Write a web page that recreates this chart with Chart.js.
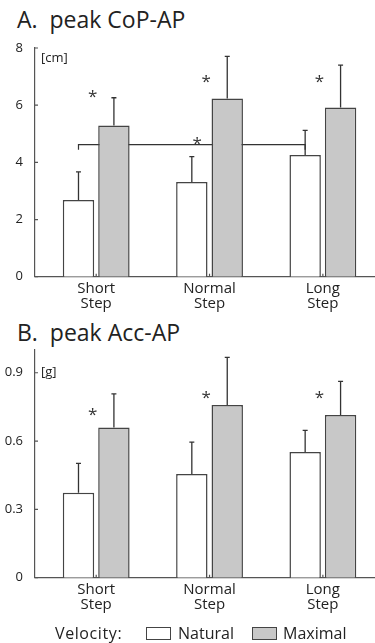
<!DOCTYPE html>
<html>
<head>
<meta charset="utf-8">
<script src="https://cdn.jsdelivr.net/npm/chart.js@4.4.1/dist/chart.umd.min.js"></script>
<style>
  body { margin: 0; background: #fff; width: 375px; height: 643px; overflow: hidden; position: relative; font-family: "Open Sans", sans-serif; color: #222; }
  .title { position: absolute; left: 17px; font-size: 23px; line-height: 24px; white-space: pre; }
  #wrapA { position: absolute; left: 0; top: 0; width: 375px; height: 330px; }
  #wrapB { position: absolute; left: 0; top: 310px; width: 375px; height: 320px; }
  .leg { position: absolute; font-size: 16px; line-height: 16px; top: 625px; white-space: pre; }
  .sw { position: absolute; top: 627px; width: 23px; height: 11px; border: 1px solid #444; }
</style>
</head>
<body>
<div class="title" style="top:7px">A.  peak CoP-AP</div>
<div class="title" style="top:320px">B.  peak Acc-AP</div>
<div id="wrapA"><canvas id="chartA"></canvas></div>
<div id="wrapB"><canvas id="chartB"></canvas></div>
<div class="leg" style="left:55px;letter-spacing:0.6px">Velocity:</div>
<div class="sw" style="left:146px;background:#fff"></div>
<div class="leg" style="left:178px">Natural</div>
<div class="sw" style="left:252px;background:#c8c8c8"></div>
<div class="leg" style="left:283px">Maximal</div>
<script>
// categorías y valores
const categories = [['Short', 'Step'], ['Normal', 'Step'], ['Long', 'Step']];

const copNatural = [2.68, 3.31, 4.26];
const copMaximal = [5.29, 6.23, 5.92];
const copNaturalSd = [0.99, 0.89, 0.86];
const copMaximalSd = [0.97, 1.48, 1.48];
const copStars = [6.48, 7.02, 7.02];
const copTicks = [0, 2, 4, 6, 8];

const accNatural = [0.373, 0.455, 0.552];
const accMaximal = [0.66, 0.758, 0.714];
const accNaturalSd = [0.129, 0.14, 0.095];
const accMaximalSd = [0.147, 0.21, 0.148];
const accStars = [0.74, 0.814, 0.814];
const accTicks = [0, 0.3, 0.6, 0.9];

// comparación Short vs Long (natural)
const copBracket = { from: 0, to: 2, y: 4.62, star: 4.84, starAt: 0.89 };

const FONT = '"Open Sans", sans-serif';
const INK = '#333';

function pts(arr) {
  return arr.map((v, i) => ({ x: i, y: v }));
}

function drawStar(ctx, x, y) {
  ctx.save();
  ctx.fillStyle = INK;
  ctx.font = '17px ' + FONT;
  ctx.textAlign = 'center';
  ctx.textBaseline = 'alphabetic';
  ctx.fillText('*', x, y + 11);
  ctx.restore();
}

const extrasPlugin = {
  id: 'extras',
  beforeDatasetsDraw(chart, args, opts) {
    const ctx = chart.ctx;
    const ys = chart.scales.y;
    const b = opts.bracket;
    if (!b) return;
    const meta = chart.getDatasetMeta(0);
    const x1 = meta.data[b.from].x, x2 = meta.data[b.to].x;
    const y = ys.getPixelForValue(b.y);
    ctx.save();
    ctx.strokeStyle = INK;
    ctx.lineWidth = 1.2;
    ctx.beginPath();
    ctx.moveTo(x1, y + 5);
    ctx.lineTo(x1, y);
    ctx.lineTo(x2, y);
    ctx.lineTo(x2, y + 5);
    ctx.stroke();
    ctx.restore();
  },
  afterDatasetsDraw(chart, args, opts) {
    const ctx = chart.ctx;
    const xs = chart.scales.x, ys = chart.scales.y;
    // barras de error (solo hacia arriba)
    opts.sd.forEach((sdArr, di) => {
      const meta = chart.getDatasetMeta(di);
      meta.data.forEach((bar, j) => {
        const mean = chart.data.datasets[di].data[j].y;
        const top = ys.getPixelForValue(mean + sdArr[j]);
        ctx.save();
        ctx.strokeStyle = INK;
        ctx.lineWidth = 1.3;
        ctx.beginPath();
        ctx.moveTo(bar.x, bar.y);
        ctx.lineTo(bar.x, top);
        ctx.moveTo(bar.x - 2.5, top);
        ctx.lineTo(bar.x + 2.5, top);
        ctx.stroke();
        ctx.restore();
      });
    });
    opts.stars.forEach((v, i) => {
      drawStar(ctx, xs.getPixelForValue(i - 0.03), ys.getPixelForValue(v));
    });
    if (opts.bracket) {
      drawStar(ctx, xs.getPixelForValue(opts.bracket.starAt), ys.getPixelForValue(opts.bracket.star));
    }
  },
  afterDraw(chart, args, opts) {
    const ctx = chart.ctx;
    const xs = chart.scales.x, ys = chart.scales.y;
    const area = chart.chartArea;
    ctx.save();
    ctx.strokeStyle = '#555';
    ctx.lineWidth = 1.2;
    ctx.beginPath();
    // marcas hacia adentro
    ys.ticks.forEach((t, i) => {
      const y = ys.getPixelForTick(i);
      ctx.moveTo(area.left, y);
      ctx.lineTo(area.left + 3, y);
    });
    xs.ticks.forEach((t, i) => {
      const x = xs.getPixelForTick(i);
      ctx.moveTo(x, area.bottom);
      ctx.lineTo(x, area.bottom - 3);
    });
    ctx.stroke();
    ctx.fillStyle = '#222';
    ctx.font = '13px ' + FONT;
    ctx.textBaseline = 'middle';
    ctx.fillText(opts.unit, area.left + opts.unitDx, ys.getPixelForValue(opts.unitAt));
    ctx.restore();
  }
};

function makeChart(id, natural, maximal, natSd, maxSd, stars, ticks, yMax, padTop, xHeight, unit, unitAt, bracket) {
  const ctx = document.getElementById(id).getContext('2d');
  return new Chart(ctx, {
    type: 'bar',
    data: {
      datasets: [{
        label: 'Natural',
        data: pts(natural),
        backgroundColor: '#ffffff',
        borderColor: '#444',
        borderWidth: 1.5,
        borderSkipped: 'bottom'
      }, {
        label: 'Maximal',
        data: pts(maximal),
        backgroundColor: '#c8c8c8',
        borderColor: '#444',
        borderWidth: 1.5,
        borderSkipped: 'bottom'
      }]
    },
    options: {
      responsive: true,
      maintainAspectRatio: false,
      animation: false,
      categoryPercentage: 0.625,
      barPercentage: 0.887,
      layout: { padding: { top: padTop, left: 0, right: 0, bottom: 0 } },
      plugins: {
        legend: { display: false },
        tooltip: { enabled: false },
        extras: { sd: [natSd, maxSd], stars: stars, bracket: bracket, unit: unit, unitAt: unitAt, unitDx: 6 }
      },
      scales: {
        x: {
          type: 'linear',
          offset: false,
          min: -0.54,
          max: 2.46,
          afterBuildTicks: function(s) {
            s.ticks = categories.map((c, i) => ({ value: i }));
          },
          afterFit: function(s) { s.height = xHeight; },
          grid: { display: false },
          border: { display: true, color: '#555', width: 1.2 },
          ticks: {
            padding: -3,
            maxRotation: 0,
            autoSkip: false,
            color: '#222',
            font: { family: FONT, size: 15, lineHeight: 1.0 },
            callback: function(v) { return categories[v]; }
          }
        },
        y: {
          min: 0,
          max: yMax,
          afterBuildTicks: function(s) {
            s.ticks = ticks.map(v => ({ value: v }));
          },
          afterFit: function(s) { s.width = 35; },
          grid: { display: false },
          border: { display: true, color: '#555', width: 1.2 },
          ticks: {
            padding: 4,
            color: '#222',
            font: { family: FONT, size: 13 },
            callback: function(v) { return String(v); }
          }
        }
      }
    },
    plugins: [extrasPlugin]
  });
}

makeChart('chartA', copNatural, copMaximal, copNaturalSd, copMaximalSd, copStars, copTicks, 8, 48, 53.3, '[cm]', 7.65, copBracket);
makeChart('chartB', accNatural, accMaximal, accNaturalSd, accMaximalSd, accStars, accTicks, 1.0, 40, 52.3, '[g]', 0.9, null);
</script>
</body>
</html>
